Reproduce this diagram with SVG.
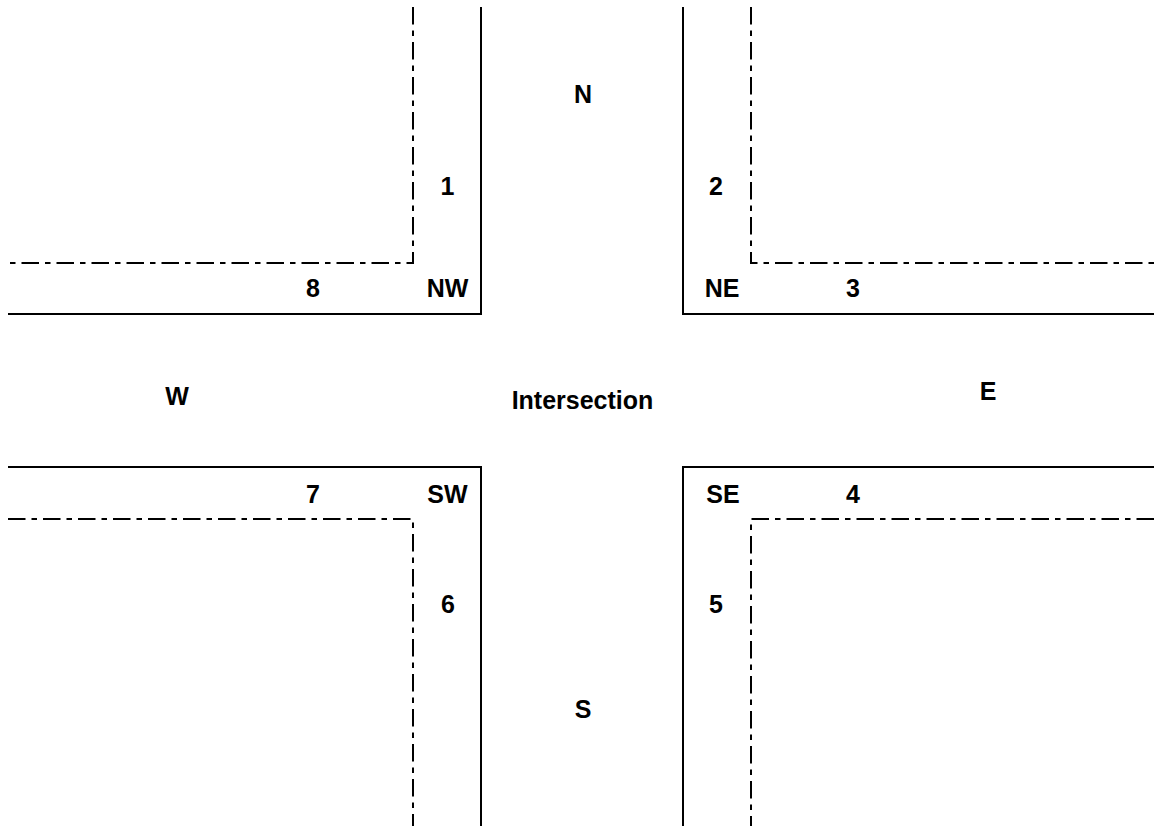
<svg xmlns="http://www.w3.org/2000/svg" width="1154" height="827" viewBox="0 0 1154 827">
<style>
.curb{fill:none;stroke:#000;stroke-width:2}
.lane{fill:none;stroke:#000;stroke-width:2;stroke-dasharray:17.5 6 5.5 6}
text{font-family:"Liberation Sans",Arial,sans-serif;font-weight:bold;font-size:25px;fill:#000;text-anchor:middle}
</style>
<rect width="1154" height="827" fill="#fff"/>
<g id="connectors">
<path id="nw-curb" class="curb" d="M481,7 V314 H8"/>
<path id="ne-curb" class="curb" d="M683,7 V314 H1154"/>
<path id="sw-curb" class="curb" d="M8,467 H481 V826"/>
<path id="se-curb" class="curb" d="M1154,467 H683 V826"/>
<path id="nw-lane" class="lane" d="M413,7 V263 H8"/>
<path id="ne-lane" class="lane" d="M751,7 V263 H1154"/>
<path id="sw-lane" class="lane" d="M8,519 H413 V826"/>
<path id="se-lane" class="lane" d="M1154,519 H751 V826"/>
</g>
<g id="intersection"><text x="582.5" y="409">Intersection</text></g>
<g id="n"><text x="583" y="103">N</text></g>
<g id="s"><text x="583" y="718">S</text></g>
<g id="w"><text x="177" y="405">W</text></g>
<g id="e"><text x="988" y="400">E</text></g>
<g id="nw"><text x="447.5" y="297">NW</text></g>
<g id="ne"><text x="722" y="297">NE</text></g>
<g id="sw"><text x="447.5" y="503">SW</text></g>
<g id="se"><text x="723" y="503">SE</text></g>
<g id="l1"><text x="447.5" y="195">1</text></g>
<g id="l2"><text x="716" y="195">2</text></g>
<g id="l3"><text x="853" y="297">3</text></g>
<g id="l4"><text x="853" y="503">4</text></g>
<g id="l5"><text x="716" y="613">5</text></g>
<g id="l6"><text x="448" y="613">6</text></g>
<g id="l7"><text x="313" y="503">7</text></g>
<g id="l8"><text x="313" y="297">8</text></g>
</svg>
